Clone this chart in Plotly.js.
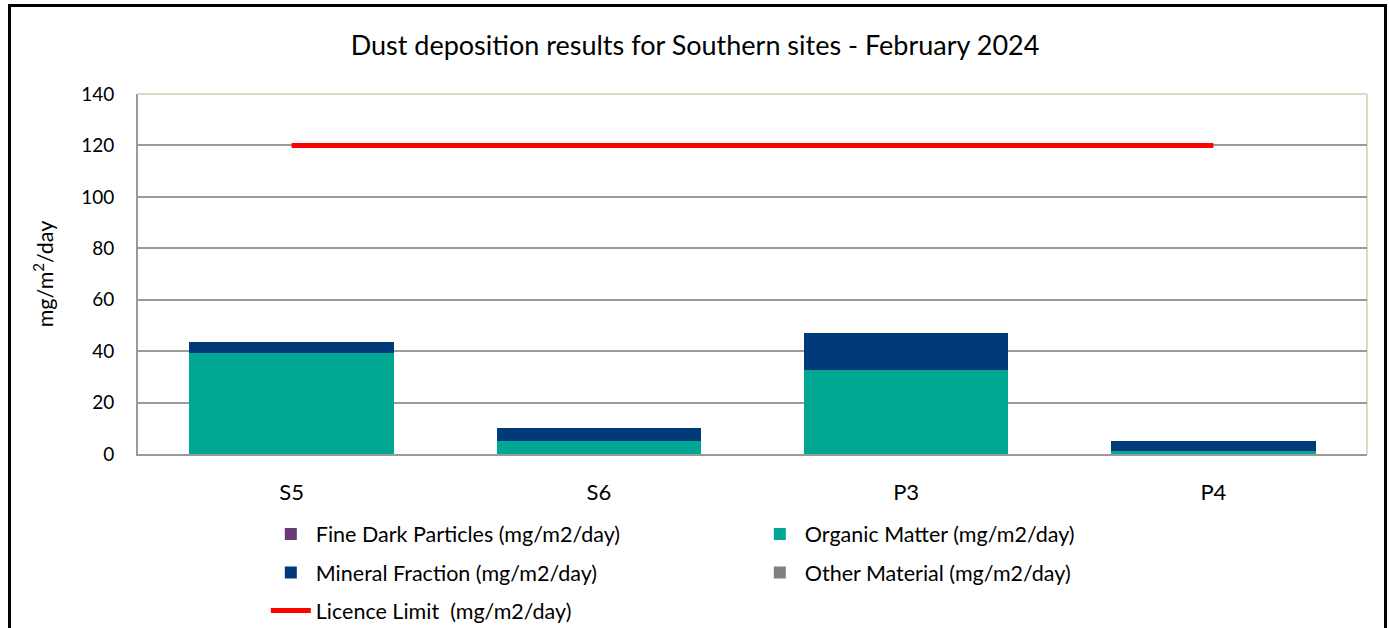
<!DOCTYPE html>
<html>
<head>
<meta charset="utf-8">
<script src="https://cdn.plot.ly/plotly-3.0.1.min.js"></script>
<style>
  html, body { margin: 0; padding: 0; background: #fff; }
  #wrap { position: relative; width: 1390px; height: 628px; overflow: hidden; }
  #chart { position: absolute; left: 0; top: 0; width: 1390px; height: 628px; }
  #frame { position: absolute; left: 8px; top: 4px; width: 1373px; height: 640px; border: 3px solid #000; pointer-events: none; }
</style>
</head>
<body>
<div id="wrap">
  <div id="chart"></div>
  <div id="frame"></div>
</div>
<script>
const sites = ['S5', 'S6', 'P3', 'P4'];
const fineDark = [0, 0, 0, 0];
const organic = [39.3, 5.1, 32.7, 1.3];
const mineral = [4.3, 5.1, 14.2, 3.6];
const other = [0, 0, 0, 0];
const licenceLimit = [120, 120, 120, 120];

const FONT = 'Lato, "Open Sans", "Liberation Sans", sans-serif';

const traces = [
  { type: 'bar', name: 'Fine Dark Particles (mg/m2/day)', x: sites, y: fineDark,
    marker: { color: '#6B3A78' }, legend: 'legend' },
  { type: 'bar', name: 'Organic Matter (mg/m2/day)', x: sites, y: organic,
    marker: { color: '#00A893' }, legend: 'legend' },
  { type: 'bar', name: 'Mineral Fraction (mg/m2/day)', x: sites, y: mineral,
    marker: { color: '#003A78' }, legend: 'legend2' },
  { type: 'bar', name: 'Other Material (mg/m2/day)', x: sites, y: other,
    marker: { color: '#808080' }, legend: 'legend2' },
  { type: 'scatter', mode: 'lines', name: 'Licence Limit  (mg/m2/day)', x: sites, y: licenceLimit,
    line: { color: '#FF0000', width: 5 }, legend: 'legend3' }
];

const legendBase = {
  orientation: 'h', xref: 'paper', yref: 'paper', x: 0.104, xanchor: 'left', yanchor: 'middle',
  entrywidth: 434, entrywidthmode: 'pixels', font: { family: FONT, size: 21.5, color: '#000' },
  bgcolor: 'rgba(0,0,0,0)', traceorder: 'normal', itemwidth: 40
};

const layout = {
  width: 1390, height: 628,
  margin: { l: 138, r: 23, t: 94, b: 174, autoexpand: false },
  paper_bgcolor: '#fff', plot_bgcolor: '#fff',
  barmode: 'stack', bargap: 0.335,
  font: { family: FONT, color: '#000' },
  title: { text: 'Dust deposition results for Southern sites - February 2024',
    font: { family: FONT, size: 27, color: '#000' }, x: 0.5, xanchor: 'center', y: 0.928, yanchor: 'middle' },
  xaxis: { type: 'category', tickfont: { family: FONT, size: 22, color: '#000' },
    showline: true, linecolor: '#9a9a9a', linewidth: 2, ticks: '', ticklabelstandoff: 18,
    automargin: false, fixedrange: true },
  yaxis: { range: [0, 140], dtick: 20, tickfont: { family: FONT, size: 19, color: '#000' },
    showgrid: true, gridcolor: '#9a9a9a', gridwidth: 2, zeroline: false,
    showline: true, linecolor: '#9a9a9a', linewidth: 2, ticks: '', ticklabelstandoff: 18,
    title: { text: 'mg/m<sup>2</sup>/day', font: { family: FONT, size: 21.5, color: '#000' }, standoff: 22 },
    automargin: false, fixedrange: true },
  shapes: [
    { type: 'line', xref: 'paper', yref: 'paper', x0: 0, x1: 1, y0: 1, y1: 1,
      line: { color: '#DDD9C4', width: 2 }, layer: 'below' },
    { type: 'line', xref: 'paper', yref: 'paper', x0: 1, x1: 1, y0: 0, y1: 1,
      line: { color: '#DDD9C4', width: 2 }, layer: 'below' }
  ],
  legend: Object.assign({}, legendBase, { y: -0.222 }),
  legend2: Object.assign({}, legendBase, { y: -0.329 }),
  legend3: Object.assign({}, legendBase, { y: -0.435 }),
  showlegend: true
};

Plotly.newPlot('chart', traces, layout, { displayModeBar: false, staticPlot: true });
</script>
</body>
</html>
